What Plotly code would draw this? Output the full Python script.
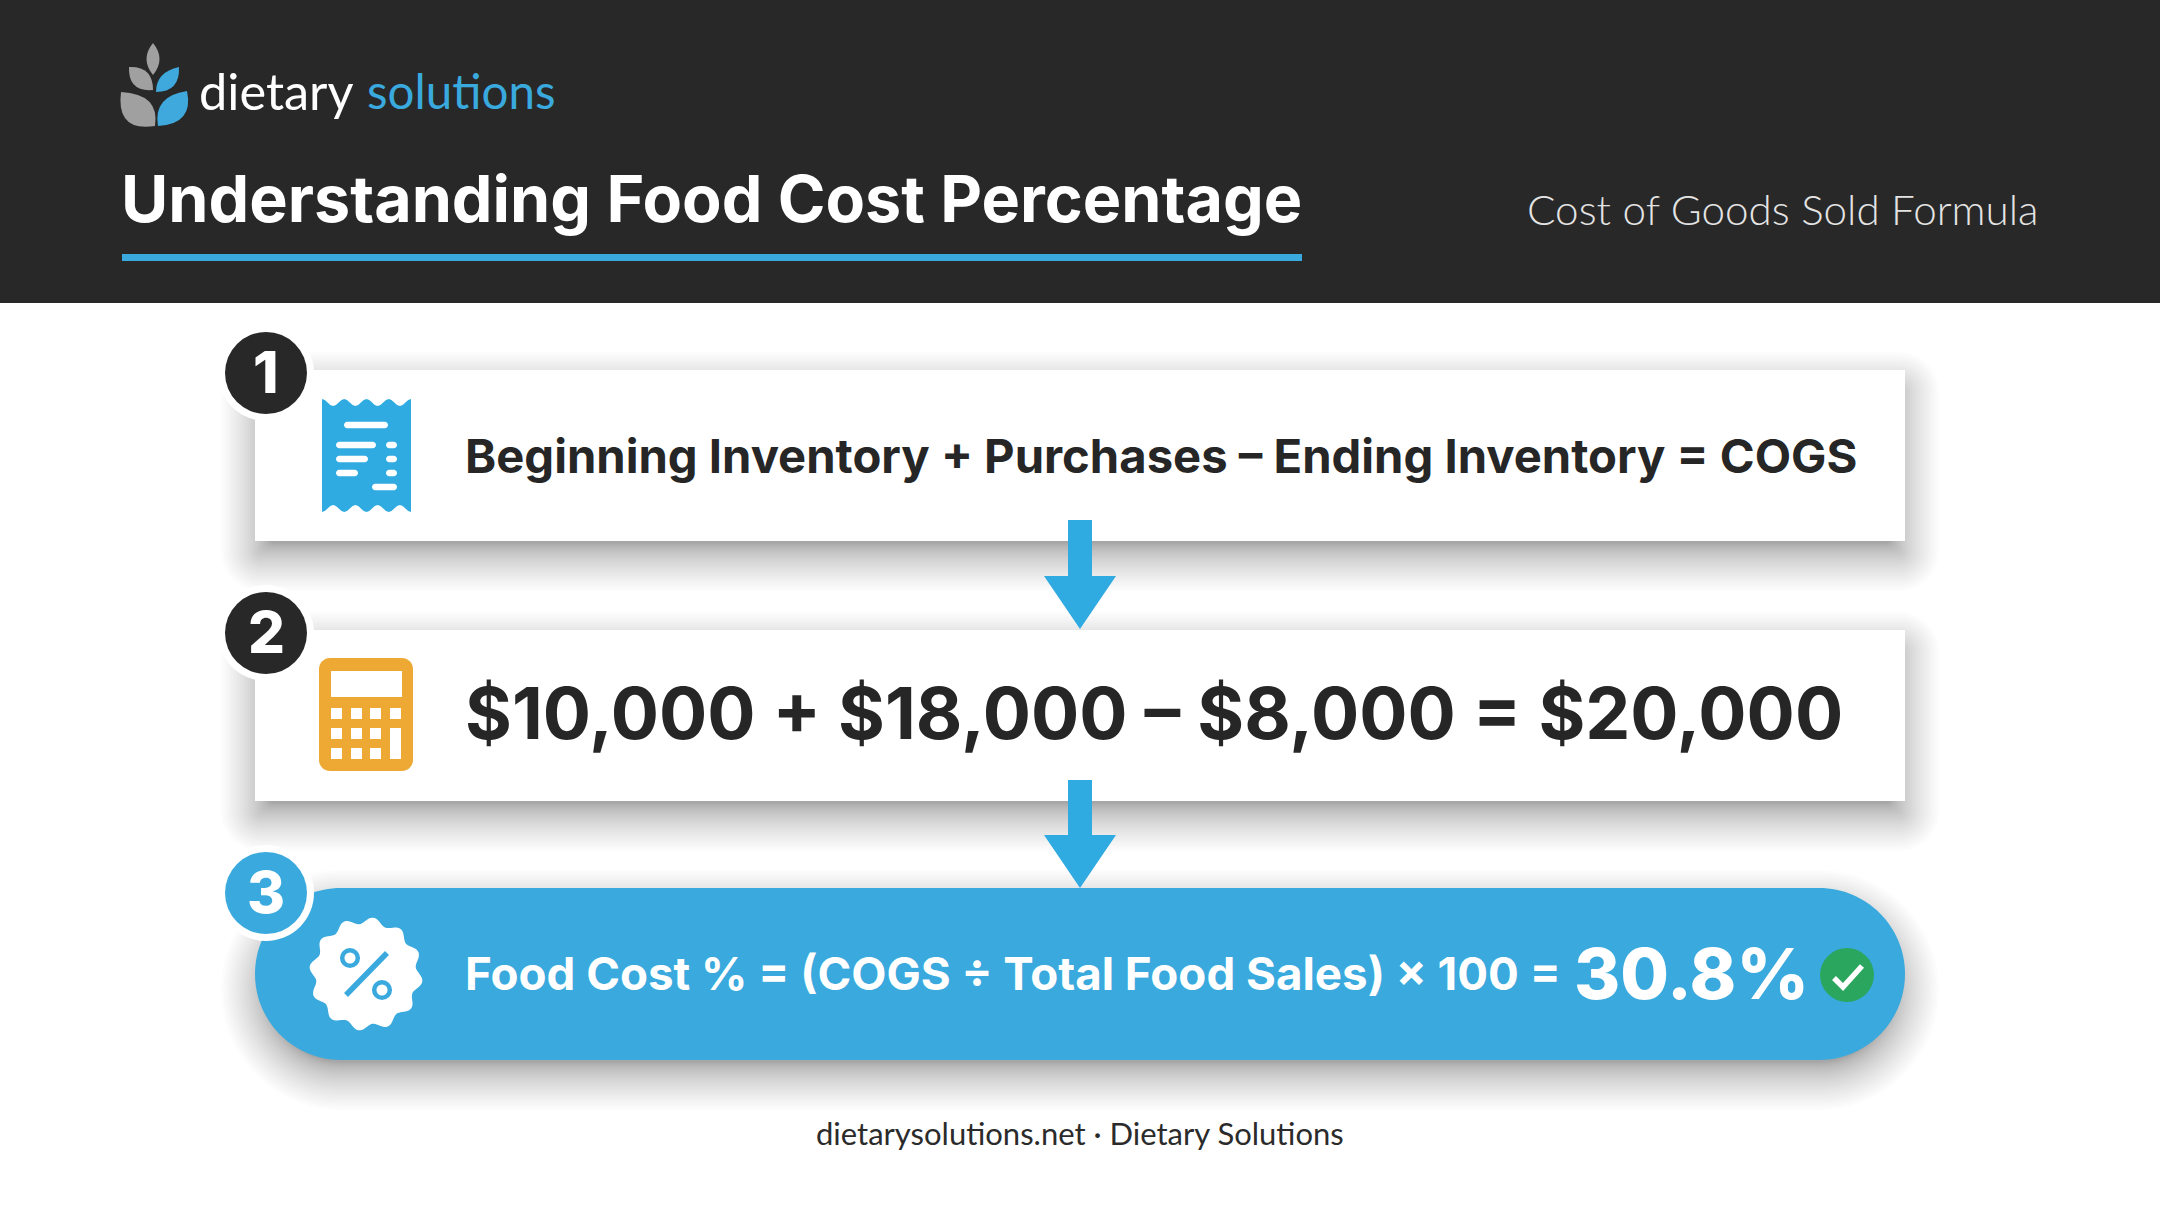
"""Food cost percentage infographic, drawn on a pixel-sized plotly canvas."""

import math

import plotly.graph_objects as go

W, H = 2160, 1206

# texts
brand_left = "dietary"
brand_right = "solutions"
title_text = "Understanding Food Cost Percentage"
subtitle_text = "Cost of Goods Sold Formula"
step_numbers = ["1", "2", "3"]
step_texts = [
    "Beginning Inventory + Purchases – Ending Inventory = COGS",
    "$10,000 + $18,000 – $8,000 = $20,000",
    "Food Cost % = (COGS ÷ Total Food Sales) × 100 =",
]
result_text = "30.8%"
footer_text = "dietarysolutions.net · Dietary Solutions"

# colours
DARK = "#282828"
BLUE = "#39A9DE"
ARROW_BLUE = "#30ABE2"
ORANGE = "#EEA935"
GREEN = "#2BA65F"
GREY_LEAF = "#A0A0A0"

shapes = []
annotations = []


def add_path(path, fill, line=None, width=0):
    shapes.append(dict(type="path", xref="x", yref="y", path=path, fillcolor=fill,
                       line=dict(color=line or "rgba(0,0,0,0)", width=width)))


def pill_path(x0, y0, x1, y1, r):
    r = min(r, (x1 - x0) / 2, (y1 - y0) / 2)
    k = 0.5523 * r
    return (f"M{x0 + r},{y0} L{x1 - r},{y0} C{x1 - r + k},{y0} {x1},{y0 + r - k} {x1},{y0 + r} "
            f"L{x1},{y1 - r} C{x1},{y1 - r + k} {x1 - r + k},{y1} {x1 - r},{y1} "
            f"L{x0 + r},{y1} C{x0 + r - k},{y1} {x0},{y1 - r + k} {x0},{y1 - r} "
            f"L{x0},{y0 + r} C{x0},{y0 + r - k} {x0 + r - k},{y0} {x0 + r},{y0} Z")


def add_rect(x0, y0, x1, y1, fill):
    shapes.append(dict(type="rect", xref="x", yref="y", x0=x0, y0=y0, x1=x1, y1=y1,
                       fillcolor=fill, line=dict(width=0)))


def add_circle(cx, cy, r, fill, line=None, width=0):
    shapes.append(dict(type="circle", xref="x", yref="y", x0=cx - r, y0=cy - r, x1=cx + r, y1=cy + r,
                       fillcolor=fill, line=dict(color=line or "rgba(0,0,0,0)", width=width)))


def add_stroke(points, color, width):
    path = "M" + " L".join(f"{x},{y}" for x, y in points)
    shapes.append(dict(type="path", xref="x", yref="y", path=path, fillcolor="rgba(0,0,0,0)",
                       line=dict(color=color, width=width)))


def add_shadow(x0, y0, x1, y1, r, dy=16, steps=30):
    # no blur in svg shapes here, so stack faint rectangles, packed closer near the card
    for i in range(steps):
        t = 1 - i / steps
        g = -14 + 48 * t ** 1.6
        add_path(pill_path(x0 - g, y0 - g + dy, x1 + g, y1 + g + dy, r + max(g, 0) + 6),
                 "rgba(0,0,0,0.0105)")


def add_text(x, y, text, size, color, family, weight=400, anchor="left"):
    # annotation boxes carry a little padding, pull left-anchored text back onto x
    shift = -3 if anchor == "left" else 0
    annotations.append(dict(x=x + shift, y=y, xref="x", yref="y", text=text, showarrow=False,
                            xanchor=anchor, yanchor="middle", align=anchor,
                            font=dict(size=size, color=color, family=family, weight=weight)))


def add_leaf(tip, end, upper, lower, fill):
    add_path(f"M{tip[0]},{tip[1]} Q{upper[0]},{upper[1]} {end[0]},{end[1]} "
             f"Q{lower[0]},{lower[1]} {tip[0]},{tip[1]} Z", fill)


def wave_edge(x0, x1, y, depth, waves, flip):
    pts = []
    n = waves * 8
    for i in range(n + 1):
        t = i / n
        pts.append((x0 + (x1 - x0) * t, y + flip * depth * (1 - math.cos(2 * math.pi * waves * t)) / 2))
    return pts


# header band
add_rect(0, 0, W, 303, DARK)
add_rect(122, 254, 1302, 261, BLUE)

# logo
add_leaf((153, 43), (153, 75), (140, 59), (166, 59), GREY_LEAF)
add_leaf((129, 67), (153, 90), (153, 66), (128, 92), GREY_LEAF)
add_leaf((179, 67), (156, 92), (156, 72), (180, 92), "#3FA9DD")
add_leaf((121, 92), (155, 126), (160, 94), (116, 132), GREY_LEAF)
add_leaf((187, 91), (158, 126), (153, 96), (194, 124), "#3FA9DD")

add_text(200, 90, brand_left, 50.5, "#FFFFFF", "Lato, sans-serif")
add_text(368, 90, brand_right, 47.5, BLUE, "Lato, sans-serif", weight=400)
add_text(122, 198, title_text, 64.6, "#FFFFFF", "Inter, sans-serif", weight=700)
add_text(1528, 208, subtitle_text, 42.2, "#E4E4E4", "Lato, sans-serif", weight=300)

# cards and their shadows
card_x0, card_x1 = 255, 1905
card_tops = [370, 630, 888]
card_bottoms = [541, 801, 1060]
add_shadow(card_x0, card_tops[0], card_x1, card_bottoms[0], 0)
add_shadow(card_x0, card_tops[1], card_x1, card_bottoms[1], 0)
add_shadow(card_x0, card_tops[2], card_x1, card_bottoms[2], 86)
add_rect(card_x0, card_tops[0], card_x1, card_bottoms[0], "#FFFFFF")
add_rect(card_x0, card_tops[1], card_x1, card_bottoms[1], "#FFFFFF")
add_path(pill_path(card_x0, card_tops[2], card_x1, card_bottoms[2], 86), BLUE)

# arrows
for top, head, tip in [(520, 576, 629), (780, 835, 888)]:
    add_path(f"M1068,{top} L1092,{top} L1092,{head} L1116,{head} L1080,{tip} "
             f"L1044,{head} L1068,{head} Z", ARROW_BLUE)

# number badges
badge_y = [373, 633, 893]
badge_fill = [DARK, DARK, BLUE]
for y, fill, num in zip(badge_y, badge_fill, step_numbers):
    add_circle(266, y, 48, "#FFFFFF")
    add_circle(266, y, 41, fill)
    add_text(266, y - 1, num, 58, "#FFFFFF", "Inter, sans-serif", weight=800, anchor="center")

# receipt icon
edge_top = wave_edge(322, 411, 399, 7, 4, 1)
edge_bottom = wave_edge(411, 322, 512, 7, 4, -1)
add_path("M" + " L".join(f"{x:.1f},{y:.1f}" for x, y in edge_top + edge_bottom) + " Z", ARROW_BLUE)
receipt_lines = [(344, 388, 425), (336, 376, 445), (386, 397, 445), (336, 368, 459),
                 (386, 397, 459), (336, 358, 473), (386, 397, 473), (372, 397, 487)]
for x0, x1, y in receipt_lines:
    add_path(pill_path(x0, y - 3.3, x1, y + 3.3, 3.3), "#FFFFFF")

# calculator icon
add_path(pill_path(319, 658, 413, 771, 11), ORANGE)
add_rect(331, 671, 402, 697, "#FFFFFF")
for col, key_x in enumerate([331, 351, 370, 390]):
    for row, key_y in enumerate([708, 728, 748]):
        if col == 3 and row > 0:
            continue
        add_rect(key_x, key_y, key_x + 11, key_y + 11, "#FFFFFF")
add_rect(390, 728, 401, 759, "#FFFFFF")

# percent badge
pts = []
for i in range(240):
    a = 2 * math.pi * i / 240
    r = 53.5 + 3.3 * math.cos(12 * a + math.pi / 2 + math.pi)
    pts.append((366 + r * math.cos(a), 974 + r * math.sin(a)))
add_path("M" + " L".join(f"{x:.1f},{y:.1f}" for x, y in pts) + " Z", "#FFFFFF")
add_stroke([(346, 995), (387, 953)], BLUE, 5.5)
add_circle(350, 958, 7.8, "#FFFFFF", BLUE, 4.5)
add_circle(382, 990, 7.8, "#FFFFFF", BLUE, 4.5)

# tick
add_circle(1847, 975, 27, GREEN)
add_stroke([(1834, 978), (1843, 987), (1862, 966)], "#FFFFFF", 5.5)

# step texts
add_text(466, 455, step_texts[0], 47.2, "#262626", "Inter, sans-serif", weight=700)
add_text(466, 713, step_texts[1], 71.6, "#262626", "Inter, sans-serif", weight=700)
add_text(466, 973, step_texts[2], 45.7, "#FFFFFF", "Inter, sans-serif", weight=700)
add_text(1575, 973, result_text, 70.5, "#FFFFFF", "Inter, sans-serif", weight=800)

add_text(1080, 1133, footer_text, 31, "#2B2B2B", "Lato, sans-serif", anchor="center")

fig = go.Figure()
fig.update_layout(
    width=W,
    height=H,
    margin=dict(l=0, r=0, t=0, b=0),
    paper_bgcolor="#FFFFFF",
    plot_bgcolor="#FFFFFF",
    showlegend=False,
    xaxis=dict(range=[0, W], visible=False, fixedrange=True),
    yaxis=dict(range=[H, 0], visible=False, fixedrange=True),
    shapes=shapes,
    annotations=annotations,
)

fig.write_html("out.html", post_script="document.body.style.margin='0';window.dispatchEvent(new Event('resize'));",
               config=dict(displayModeBar=False))
